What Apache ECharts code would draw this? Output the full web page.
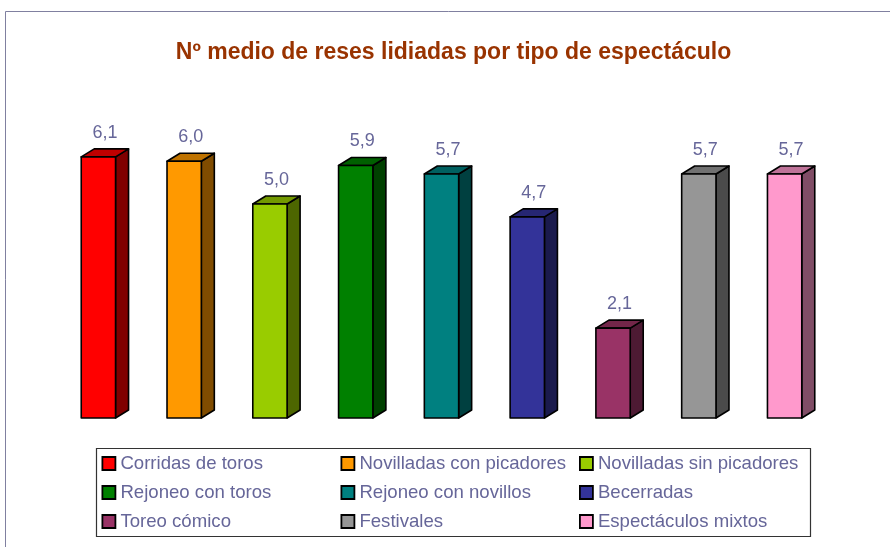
<!DOCTYPE html>
<html>
<head>
<meta charset="utf-8">
<script src="https://cdn.jsdelivr.net/npm/echarts@6/dist/echarts.min.js"></script>
<style>
  html, body { margin: 0; padding: 0; background: #fff; }
  #chart { width: 890px; height: 547px; }
</style>
</head>
<body>
<div id="chart"></div>
<script>
// Average number of bulls fought per type of show
const categories = [
  'Corridas de toros', 'Novilladas con picadores', 'Novilladas sin picadores',
  'Rejoneo con toros', 'Rejoneo con novillos', 'Becerradas',
  'Toreo cómico', 'Festivales', 'Espectáculos mixtos'
];
const values = [6.1, 6.0, 5.0, 5.9, 5.7, 4.7, 2.1, 5.7, 5.7];

// front / side / top face colours per bar
const frontColors = ['#FF0000', '#FF9900', '#99CC00', '#008000', '#008080', '#333399', '#993366', '#969696', '#FF99CC'];
const sideColors  = ['#800000', '#804C00', '#4D6600', '#004000', '#004040', '#1A1A4D', '#4D1A33', '#4B4B4B', '#804D66'];
const topColors   = ['#C00000', '#BF7300', '#739900', '#006000', '#006060', '#262673', '#732649', '#717171', '#BF7399'];

const DX = 13, DY = 8;
const FONT = '"Liberation Sans", Arial, sans-serif';

function fmt(v) { return v.toFixed(1).replace('.', ','); }

function makeRender(i) {
  return function (params, api) {
    const top = api.coord([i, api.value(1)]);
    const base = api.coord([i, 0]);
    const band = api.size([1, 0])[0];
    const w = band * 0.4;
    const x0 = top[0] - (w + DX) / 2;
    const x1 = x0 + w;
    const yT = top[1], yB = base[1];
    const line = { stroke: '#000', lineWidth: 1.6, lineJoin: 'round' };
    return {
      type: 'group',
      children: [
        { type: 'polygon', shape: { points: [[x1, yT], [x1 + DX, yT - DY], [x1 + DX, yB - DY], [x1, yB]] },
          style: Object.assign({ fill: sideColors[i] }, line) },
        { type: 'polygon', shape: { points: [[x0, yT], [x0 + DX, yT - DY], [x1 + DX, yT - DY], [x1, yT]] },
          style: Object.assign({ fill: topColors[i] }, line) },
        { type: 'rect', shape: { x: x0, y: yT, width: w, height: yB - yT },
          style: Object.assign({ fill: frontColors[i] }, line) },
        { type: 'text', x: x0 + (w + DX) / 2, y: yT - DY - 7,
          style: { text: fmt(api.value(1)), fill: '#666699', font: '18px ' + FONT,
                   align: 'center', verticalAlign: 'bottom' } }
      ]
    };
  };
}

const series = categories.map((name, i) => ({
  name: name,
  type: 'custom',
  renderItem: makeRender(i),
  itemStyle: { color: frontColors[i] },
  data: [[i, values[i]]],
  encode: { x: 0, y: 1 },
  silent: true
}));

function legendCol(idx, left) {
  return {
    orient: 'vertical',
    left: left,
    top: 453.5,
    padding: 0,
    height: 90,
    itemWidth: 13,
    itemHeight: 13,
    itemGap: 9,
    icon: 'rect',
    selectedMode: false,
    textStyle: { color: '#666699', fontSize: 18.6, lineHeight: 20, fontFamily: FONT },
    data: idx.map(i => ({ name: categories[i], itemStyle: { color: frontColors[i], borderColor: '#000', borderWidth: 1.8 } }))
  };
}

const chart = echarts.init(document.getElementById('chart'));
chart.setOption({
  animation: false,
  title: {
    text: 'Nº medio de reses lidiadas por tipo de espectáculo',
    left: 448.5, top: 36, textAlign: 'center',
    textStyle: { color: '#993300', fontSize: 23, fontWeight: 'bold', fontFamily: FONT }
  },
  graphic: [
    { type: 'rect', shape: { x: 5.5, y: 11.5, width: 900, height: 600 }, style: { fill: 'none', stroke: '#8080A0', lineWidth: 1 } },
    { type: 'rect', shape: { x: 96.5, y: 448.5, width: 714, height: 88 }, style: { fill: 'none', stroke: '#333', lineWidth: 1.2 } }
  ],
  grid: { left: 62, width: 772, top: 118.4, bottom: 129 },
  xAxis: { type: 'category', data: categories, show: false },
  yAxis: { type: 'value', min: 0, max: 7, show: false },
  legend: [
    legendCol([0, 3, 6], 101.5),
    legendCol([1, 4, 7], 340.5),
    legendCol([2, 5, 8], 579)
  ],
  series: series
});
</script>
</body>
</html>
